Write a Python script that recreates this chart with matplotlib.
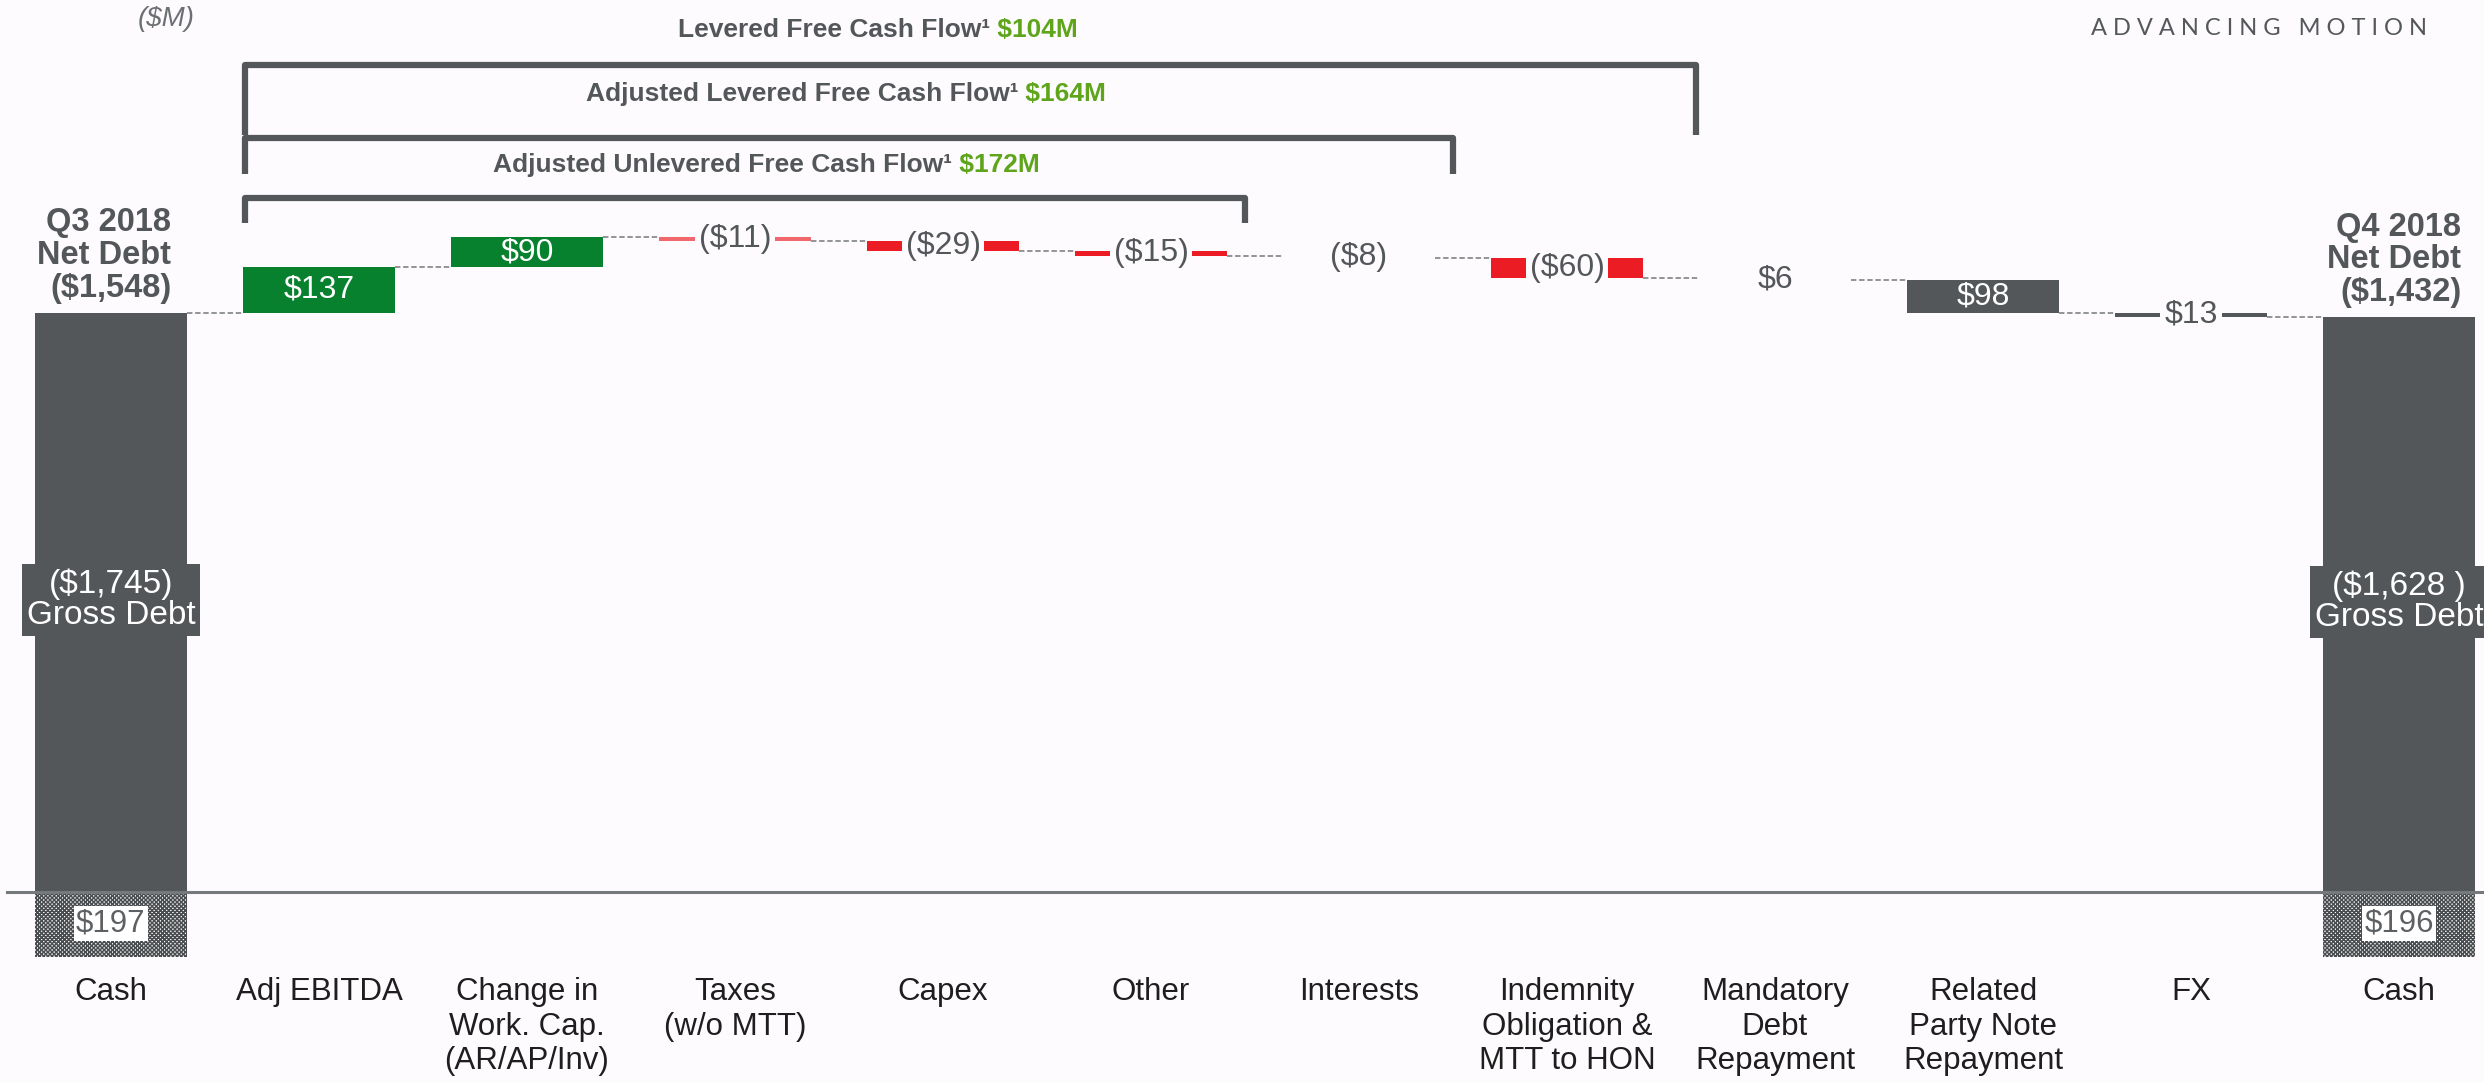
# net debt bridge Q3 2018 -> Q4 2018 (waterfall)
import numpy as np
import matplotlib.pyplot as plt

plt.rcParams['text.parse_math'] = False

# data
categories = ['Cash', 'Adj EBITDA', 'Change in\nWork. Cap.\n(AR/AP/Inv)', 'Taxes\n(w/o MTT)',
              'Capex', 'Other', 'Interests', 'Indemnity\nObligation &\nMTT to HON',
              'Mandatory\nDebt\nRepayment', 'Related\nParty Note\nRepayment', 'FX', 'Cash']
quarters = ['Q3 2018', 'Q4 2018']
net_debt = [1548, 1432]
gross_debt = [1745, 1628]
gross_labels = ['($1,745)', '($1,628 )']
cash = [197, 196]
steps = [137, 90, -11, -29, -15, -8, -60, -6, -98, -13]
step_labels = ['$137', '$90', '($11)', '($29)', '($15)', '($8)', '($60)', '$6', '$98', '$13']
fcf_titles = ['Levered Free Cash Flow\u00b9', 'Adjusted Levered Free Cash Flow\u00b9',
              'Adjusted Unlevered Free Cash Flow\u00b9']
fcf_last = [7, 6, 5]   # last category covered by each bracket

# styling
BG = '#fdfbfd'
GRAY = '#54575a'
GREEN = '#08812e'
RED = '#ec1c24'
LIME = '#5ea51c'
step_colors = [GREEN, GREEN, '#f0686c', RED, RED, 'none', RED, 'none', GRAY, GRAY]
inside = [True, True, False, False, False, False, False, False, True, False]
NARROW = ['Liberation Sans Narrow', 'Liberation Sans', 'DejaVu Sans']
SANS = ['Liberation Sans', 'DejaVu Sans']

S = 0.332          # pixels per $M
BASE = 892         # pixel row of zero line
W = 0.73


def ypx(p):
    # pixel row (from top) -> data y
    return (BASE - p) / S


fig = plt.figure(figsize=(24.84, 10.82), dpi=100, facecolor=BG)
ax = fig.add_axes([0, 0, 1, 1])
ax.set_facecolor(BG)
ax.set_xlim(-111 / 208, (2484 - 111) / 208)
ax.set_ylim(ypx(1082), ypx(0))
ax.axis('off')

n = len(categories)
x = np.arange(n)
levels = gross_debt[0] + np.concatenate([[0], np.cumsum(steps)])
ends = [0, n - 1]
end_tops = [levels[0], levels[-1]]

# zero line
ax.axhline(0, xmin=7 / 2484, color='#76797c', lw=2.2, zorder=3)

# start / end bars
plt.rcParams['hatch.linewidth'] = 1.1
plt.rcParams['hatch.color'] = '#4a4d50'
for k, i in enumerate(ends):
    ax.bar(x[i], end_tops[k], width=W, color=GRAY, zorder=2)
    ax.bar(x[i], -cash[k], width=W, color='white', edgecolor='#4a4d50', hatch='xxxxxxxx',
           lw=0, zorder=2)
    ax.text(x[i], -cash[k] / 2 + 3, f'${cash[k]}', ha='center', va='center', fontsize=22.5,
            color='#5e6164', family=SANS, zorder=4,
            bbox=dict(boxstyle='square,pad=0.08', fc='white', ec='none'))
    ax.text(x[i], end_tops[k] / 2 + 8, f'{gross_labels[k]}\nGross Debt', ha='center',
            va='center', fontsize=24, color='white', family=SANS, linespacing=1.02, zorder=4,
            bbox=dict(boxstyle='square,pad=0.14', fc=GRAY, ec='none'))
    xr = x[i] + 0.29 if k == 0 else x[i] + 0.3
    ax.text(xr, end_tops[k] + 26, f'{quarters[k]}\nNet Debt\n(${net_debt[k]:,})', ha='right',
            va='bottom', fontsize=23.5, fontweight='bold', color=GRAY, family=NARROW,
            linespacing=1.08)

# step bars
for j, v in enumerate(steps):
    i = j + 1
    ax.bar(x[i], v, bottom=levels[j], width=W, color=step_colors[j], lw=0, zorder=2)
    ymid = levels[j] + v / 2
    if inside[j]:
        ax.text(x[i], ymid, step_labels[j], ha='center', va='center', fontsize=23,
                color='white', family=NARROW, zorder=4)
    else:
        ax.text(x[i], ymid, step_labels[j], ha='center', va='center', fontsize=23,
                color=GRAY, family=NARROW, zorder=4,
                bbox=dict(boxstyle='square,pad=0.12', fc=BG, ec='none'))

# dashed connectors
for i in range(n - 1):
    ax.plot([x[i] + W / 2, x[i + 1] - W / 2], [levels[i], levels[i]], color='#8a8c8f',
            lw=1.3, ls=(0, (3, 1.5)), zorder=1)

# category labels
for i, c in enumerate(categories):
    ax.text(x[i], ypx(977), c, ha='center', va='top', fontsize=22.5, color='#1e1e1e',
            family=SANS, linespacing=1.2)

# free cash flow brackets
br_top = [65, 138, 198]
br_bot = [135, 174, 223]
title_x = [678, 586, 493]
title_y = [30, 94, 165]
for k in range(3):
    xl = 1 - W / 2 + 0.01
    xr = fcf_last[k] + 0.5 + (0.12 if k == 0 else -0.05)
    yt, yb = ypx(br_top[k]), ypx(br_bot[k])
    ax.plot([xl, xl, xr, xr], [yb, yt, yt, yb], color=GRAY, lw=4.5,
            solid_joinstyle='round', solid_capstyle='butt', zorder=3)
    total = sum(steps[:fcf_last[k]])
    t = ax.text((title_x[k] - 111) / 208, ypx(title_y[k]), fcf_titles[k], ha='left',
                va='center', fontsize=19, fontweight='bold', color=GRAY, family=NARROW)
    ax.annotate(f' ${total}M', xy=(1, 0.5), xycoords=t, ha='left', va='center',
                fontsize=19, fontweight='bold', color=LIME, family=NARROW)

# unit and header
ax.text((166 - 111) / 208, ypx(19), '($M)', ha='center', va='center', fontsize=20,
        style='italic', color='#6d7073', family=NARROW)
ax.text((2427 - 111) / 208, ypx(28), 'A D V A N C I N G   M O T I O N', ha='right',
        va='center', fontsize=17, fontweight='normal', color='#55585b',
        family=['Lato', 'DejaVu Sans'])

fig.savefig('out.png', dpi=100, facecolor=BG)
